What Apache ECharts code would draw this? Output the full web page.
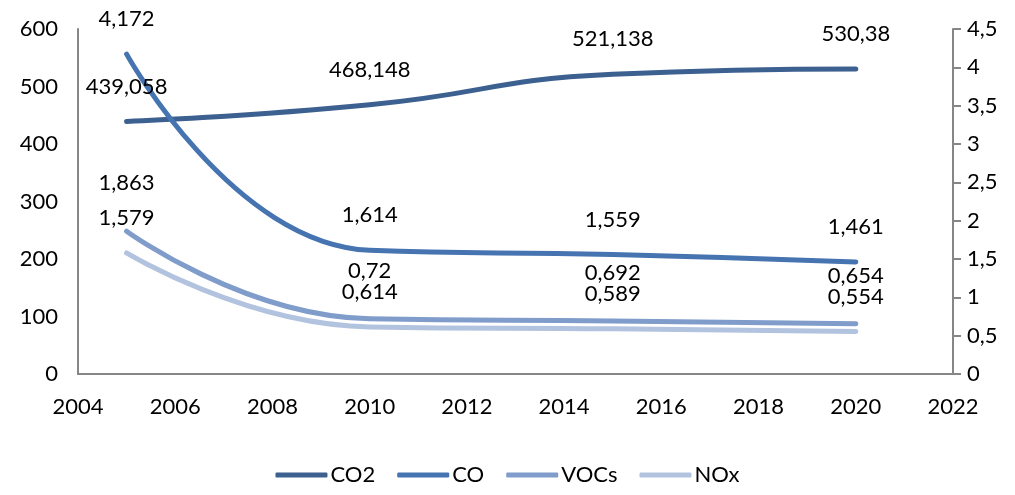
<!DOCTYPE html>
<html>
<head>
<meta charset="utf-8">
<script src="https://cdn.jsdelivr.net/npm/echarts@6/dist/echarts.min.js"></script>
<style>
	* {
		margin: 0;
		padding: 0;
	}

	#main {
		width: 1015px;
		height: 495px;
		background: #fff;
	}
</style>
</head>
<body>
<div id="main"></div>
<script>
	var years = [2005, 2010, 2015, 2020];
	var co2 = [439.058, 468.148, 521.138, 530.38];
	var co = [4.172, 1.614, 1.559, 1.461];
	var vocs = [1.863, 0.72, 0.692, 0.654];
	var nox = [1.579, 0.614, 0.589, 0.554];

	function comma(v) {
		return String(v).replace('.', ',');
	}

	function pairs(arr) {
		return arr.map(function (v, i) {
			return [years[i], v];
		});
	}

	function makeSeries(name, data, axis, color, dist) {
		return {
			name: name,
			type: 'line',
			yAxisIndex: axis,
			data: pairs(data),
			smooth: 0.5,
			symbol: 'circle',
			symbolSize: 4,
			lineStyle: { width: 5, color: color, cap: 'round' },
			itemStyle: { color: color, borderWidth: 0 },
			label: {
				show: true,
				position: 'top',
				distance: dist,
				color: '#000',
				fontSize: 22,
				fontFamily: 'Lato',
				formatter: function (p) {
					return comma(p.value[1]);
				}
			}
		};
	}

	var chart = echarts.init(document.getElementById('main'));
	var axisLabel = { color: '#000', fontSize: 22, fontFamily: 'Lato' };
	chart.setOption({
		animation: false,
		textStyle: { fontFamily: 'Lato' },
		grid: { left: 78, right: 62, top: 29, bottom: 121 },
		legend: {
			bottom: 4,
			left: 'center',
			itemWidth: 52,
			itemHeight: 5,
			itemGap: 22,
			icon: 'roundRect',
			textStyle: { color: '#000', fontSize: 22, fontFamily: 'Lato', padding: [0, 0, 0, -2] },
			data: ['CO2', 'CO', 'VOCs', 'NOx']
		},
		xAxis: {
			type: 'value',
			min: 2004,
			max: 2022,
			interval: 2,
			splitLine: { show: false },
			axisTick: { show: false },
			axisLine: { lineStyle: { color: '#868686', width: 2 } },
			axisLabel: Object.assign({
				margin: 22,
				formatter: function (v) { return String(v); }
			}, axisLabel)
		},
		yAxis: [{
			type: 'value',
			min: 0,
			max: 600,
			interval: 100,
			splitLine: { show: false },
			axisTick: { show: false },
			axisLine: { show: true, lineStyle: { color: '#868686', width: 2 } },
			axisLabel: Object.assign({ margin: 20 }, axisLabel)
		}, {
			type: 'value',
			min: 0,
			max: 4.5,
			interval: 0.5,
			splitLine: { show: false },
			axisTick: { show: true, length: 8, lineStyle: { color: '#868686', width: 2 } },
			axisLine: { show: true, lineStyle: { color: '#868686', width: 2 } },
			axisLabel: Object.assign({
				margin: 14,
				formatter: function (v) { return comma(v); }
			}, axisLabel)
		}],
		series: [
			makeSeries('CO2', co2, 0, '#3C6090', 22),
			makeSeries('CO', co, 1, '#4674B1', 22),
			makeSeries('VOCs', vocs, 1, '#7F9CCB', 35),
			makeSeries('NOx', nox, 1, '#B2C3DF', 22)
		]
	});
</script>
</body>
</html>
